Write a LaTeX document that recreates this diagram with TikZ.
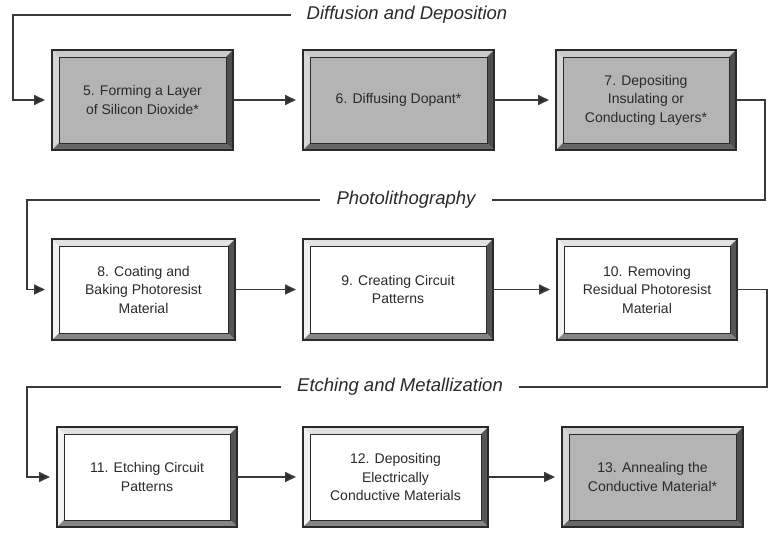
\documentclass[tikz,border=0pt]{standalone}
\usepackage{fontspec}
\setmainfont{Liberation Sans}
\usetikzlibrary{arrows.meta}
\definecolor{ink}{HTML}{2A2A2A}
\definecolor{lineink}{HTML}{3A3A3A}
\definecolor{grayface}{HTML}{B4B4B4}
\definecolor{graytop}{HTML}{CACACA}
\definecolor{grayleft}{HTML}{D6D6D6}
\definecolor{grayright}{HTML}{4E4E4E}
\definecolor{graybot}{HTML}{666666}
\definecolor{whiteface}{HTML}{FFFFFF}
\definecolor{whitetop}{HTML}{E2E2E2}
\definecolor{whiteleft}{HTML}{F2F2F2}
\definecolor{whiteright}{HTML}{555555}
\definecolor{whitebot}{HTML}{858585}
\tikzset{
  boxtext/.style={inner sep=0pt, outer sep=0pt, align=center, text=ink,
    font=\fontsize{14pt}{18.5pt}\selectfont},
  conn/.style={draw=lineink, line width=1.7pt},
  arr/.style={conn, -{Triangle[length=11pt,width=10pt,fill=ink]}, shorten >=7pt},
  stage/.style={inner ysep=2pt, inner xsep=16pt, text=ink,
    font=\fontsize{18.5pt}{22pt}\selectfont\itshape}
}
% name, x1, y1, x2, y2, scheme (gray/white), text
\newcommand\bevbox[7]{%
  \pgfmathsetmacro\bw{#4-#2}\pgfmathsetmacro\bh{#5-#3}%
  \pgfmathsetmacro\bx{(#2+#4)/2}\pgfmathsetmacro\by{(#3+#5)/2}%
  \node[boxtext, fill=#6face, minimum width=\bw pt, minimum height=\bh pt] (#1) at (\bx,\by) {};
  \fill[#6top] (#1.north west) -- (#1.north east) -- ([shift={(-7pt,-7pt)}]#1.north east) -- ([shift={(7pt,-7pt)}]#1.north west) -- cycle;
  \fill[#6left] (#1.north west) -- (#1.south west) -- ([shift={(7pt,7pt)}]#1.south west) -- ([shift={(7pt,-7pt)}]#1.north west) -- cycle;
  \fill[#6right] (#1.north east) -- (#1.south east) -- ([shift={(-7pt,7pt)}]#1.south east) -- ([shift={(-7pt,-7pt)}]#1.north east) -- cycle;
  \fill[#6bot] (#1.south west) -- (#1.south east) -- ([shift={(-7pt,7pt)}]#1.south east) -- ([shift={(7pt,7pt)}]#1.south west) -- cycle;
  \draw[ink, line width=1pt] ([shift={(7pt,-7pt)}]#1.north west) rectangle ([shift={(-7pt,7pt)}]#1.south east);
  \draw[ink, line width=1.2pt] (#1.north west) rectangle (#1.south east);
  \node[boxtext] at (#1.center) {#7};
}
\begin{document}
\begin{tikzpicture}[x=1pt, y=-1pt]
\useasboundingbox[fill=white] (0,0) rectangle (769,533);

% Row 1
\bevbox{b5}{52}{50}{233}{150}{gray}{5. Forming a Layer\\of Silicon Dioxide*}
\bevbox{b6}{303}{50}{494}{150}{gray}{6. Diffusing Dopant*}
\bevbox{b7}{556}{50}{736}{150}{gray}{7. Depositing\\Insulating or\\Conducting Layers*}
% Row 2
\bevbox{b8}{52}{239}{235}{340}{white}{8. Coating and\\Baking Photoresist\\Material}
\bevbox{b9}{303}{239}{493}{340}{white}{9. Creating Circuit\\Patterns}
\bevbox{b10}{557}{239}{737}{340}{white}{10. Removing\\Residual Photoresist\\Material}
% Row 3
\bevbox{b11}{57}{427}{237}{527}{white}{11. Etching Circuit\\Patterns}
\bevbox{b12}{303}{427}{488}{527}{white}{12. Depositing\\Electrically\\Conductive Materials}
\bevbox{b13}{562}{427}{743}{527}{gray}{13. Annealing the\\Conductive Material*}

% Stage labels
\node[stage] (lab1) at (407,15) {Diffusion and Deposition};
\node[stage] (lab2) at (406,200) {Photolithography};
\node[stage] (lab3) at (400,387) {Etching and Metallization};

% Corner coordinates
\coordinate (l1) at (13,100);
\coordinate (l2) at (27,289.5);
\coordinate (l3) at (27,477);
\coordinate (r1) at (765,200);
\coordinate (r2) at (767,387);

% Connectors
\draw[arr] (lab1.west) -| (l1) -- (b5.west);
\draw[arr] (b5.east) -- (b6.west);
\draw[arr] (b6.east) -- (b7.west);
\draw[conn] (b7.east) -| (r1) -- (lab2.east);
\draw[arr] (lab2.west) -| (l2) -- (b8.west);
\draw[arr] (b8.east) -- (b9.west);
\draw[arr] (b9.east) -- (b10.west);
\draw[conn] (b10.east) -| (r2) -- (lab3.east);
\draw[arr] (lab3.west) -| (l3) -- (b11.west);
\draw[arr] (b11.east) -- (b12.west);
\draw[arr] (b12.east) -- (b13.west);
\end{tikzpicture}
\end{document}
